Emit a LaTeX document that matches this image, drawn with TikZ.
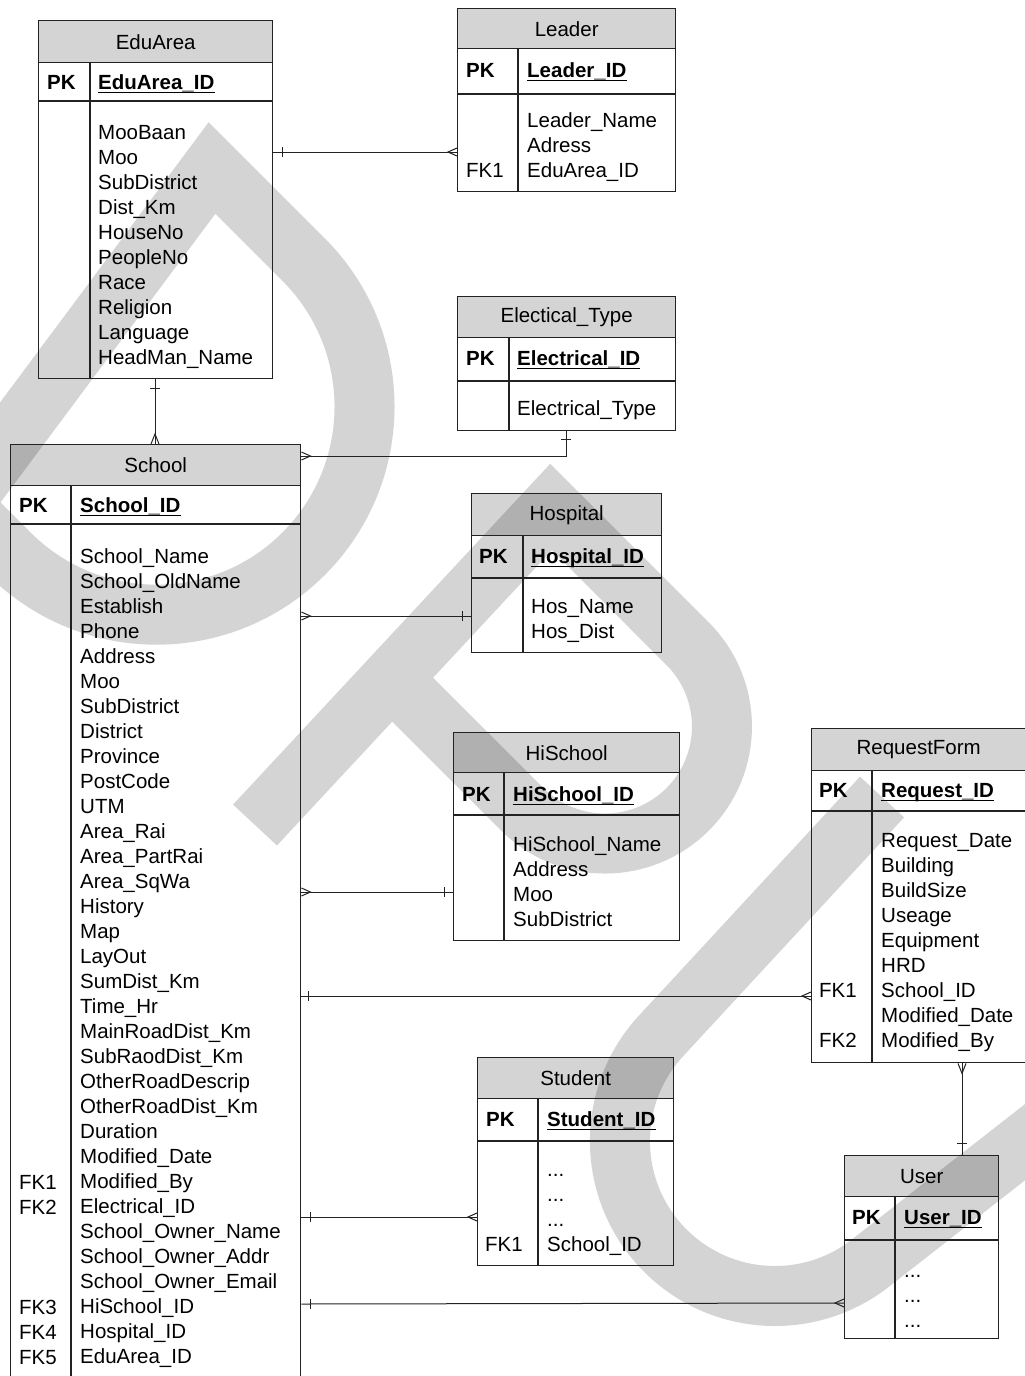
\documentclass[tikz,border=0pt]{standalone}
\usepackage{fontspec}
\setmainfont{Liberation Sans}
\usetikzlibrary{calc}

\definecolor{wm}{HTML}{D4D4D4}
\definecolor{ink}{HTML}{222222}

\tikzset{
  boxline/.style={draw=ink, line width=1.4pt},
  tbl/.style={boxline, inner sep=0pt, anchor=north west},
  hdrcell/.style={boxline, fill=black, fill opacity=0.17, text opacity=1, inner sep=0pt, anchor=north west},
  attr/.style={inner sep=0pt, anchor=base west},
  keyname/.style={inner sep=0pt, anchor=base west, font=\fontsize{20.5}{25}\selectfont\bfseries},
  conn/.style={draw=ink, line width=1pt},
  wmband/.style={draw=wm, line width=60pt, line cap=butt, line join=miter},
}

\newcommand\erDots{...}

% bar (one) and crow's foot (many) marks at a point on a box edge
\newcommand\erBarRight[1]{\draw[conn] ($(#1)+(9,-5)$) -- ($(#1)+(9,5)$);}
\newcommand\erBarLeft[1]{\draw[conn] ($(#1)+(-9,-5)$) -- ($(#1)+(-9,5)$);}
\newcommand\erBarDown[1]{\draw[conn] ($(#1)+(-5,9)$) -- ($(#1)+(5,9)$);}
\newcommand\erBarUp[1]{\draw[conn] ($(#1)+(-5,-12)$) -- ($(#1)+(5,-12)$);}
\newcommand\erCrowRight[1]{\draw[conn] ($(#1)+(0,-4)$) -- ($(#1)+(9,0)$) -- ($(#1)+(0,4)$);}
\newcommand\erCrowLeft[1]{\draw[conn] ($(#1)+(0,-4)$) -- ($(#1)+(-9,0)$) -- ($(#1)+(0,4)$);}
\newcommand\erCrowDown[1]{\draw[conn] ($(#1)+(-4,0)$) -- ($(#1)+(0,10)$) -- ($(#1)+(4,0)$);}
\newcommand\erCrowUp[1]{\draw[conn] ($(#1)+(-4,0)$) -- ($(#1)+(0,-10)$) -- ($(#1)+(4,0)$);}

% one table: #1 name, #2 left, #3 top, #4 width, #5 height, #6 header height, #7 key row height, #8 key column width, #9 title
\newcommand\erTable[9]{%
  \node[tbl, minimum width=#4pt, minimum height=#5pt] (#1) at (#2,#3) {};
  \node[hdrcell, minimum width=#4pt, minimum height=#6pt] (#1-h) at (#2,#3) {#9};
  \draw[boxline] ($(#1.north west)+(0,#6+#7)$) -- ($(#1.north east)+(0,#6+#7)$);
  \draw[boxline] ($(#1.north west)+(#8,#6)$) -- ($(#1.south west)+(#8,0)$);
}

\begin{document}
\begin{tikzpicture}[x=1pt, y=-1pt, font=\fontsize{20.5}{25}\selectfont]
\useasboundingbox (0,0) rectangle (1025,1376);
\fill[white] (0,0) rectangle (1025,1376);

% ---------- watermark: large slanted outline letters D, P, U ----------
\begin{scope}
  \clip (0,0) rectangle (1025,1376);
  % D
  \draw[wmband] (-39,505.2) -- (212,168) -- (303.6,259.6)
    arc[start angle=-45, end angle=135, radius=208] -- cycle;
  % P
  \draw[wmband] (255,825) -- (551,507) -- (687.7,643.8)
    arc[start angle=-45, end angle=135, radius=117] -- (385,672);
  % U
  \draw[wmband] (882,797) -- (661.2,1035.7)
    arc[start angle=222.8, end angle=51.9, radius=155] -- (1107,1078);
\end{scope}

% ---------- tables ----------
\erTable{edu}{38}{20}{234}{358}{42}{39}{52}{EduArea}
\node[attr] (edu-pk) at (47,89) {\textbf{PK}};
\node[keyname] (edu-k) at (98,89) {EduArea\_ID};
\foreach \t [count=\i from 0] in {MooBaan,Moo,SubDistrict,Dist\_Km,HouseNo,PeopleNo,Race,Religion,Language,HeadMan\_Name}
  \node[attr] (edu-a\i) at (98,139+25*\i) {\t};

\erTable{lead}{457}{8}{218}{183}{40}{46}{61}{Leader}
\node[attr] (lead-pk) at (466,77) {\textbf{PK}};
\node[keyname] (lead-k) at (527,77) {Leader\_ID};
\foreach \t [count=\i from 0] in {Leader\_Name,Adress,EduArea\_ID}
  \node[attr] (lead-a\i) at (527,127+25*\i) {\t};
\node[attr] (lead-fk) at (466,177) {FK1};

\erTable{elec}{457}{296}{218}{134}{41}{44}{52}{Electical\_Type}
\node[attr] (elec-pk) at (466,365) {\textbf{PK}};
\node[keyname] (elec-k) at (517,365) {Electrical\_ID};
\node[attr] (elec-a0) at (517,415) {Electrical\_Type};

\erTable{sch}{10}{444}{290}{960}{41}{39}{61}{School}
\node[attr] (sch-pk) at (19,512) {\textbf{PK}};
\node[keyname] (sch-k) at (80,512) {School\_ID};
\foreach \t [count=\i from 0] in {School\_Name,School\_OldName,Establish,Phone,Address,Moo,SubDistrict,District,Province,PostCode,UTM,Area\_Rai,Area\_PartRai,Area\_SqWa,History,Map,LayOut,SumDist\_Km,Time\_Hr,MainRoadDist\_Km,SubRaodDist\_Km,OtherRoadDescrip,OtherRoadDist\_Km,Duration,Modified\_Date,Modified\_By,Electrical\_ID,School\_Owner\_Name,School\_Owner\_Addr,School\_Owner\_Email,HiSchool\_ID,Hospital\_ID,EduArea\_ID}
  \node[attr] (sch-a\i) at (80,563+25*\i) {\t};
\node[attr] (sch-fk1) at (19,1189) {FK1};
\node[attr] (sch-fk2) at (19,1214) {FK2};
\node[attr] (sch-fk3) at (19,1314) {FK3};
\node[attr] (sch-fk4) at (19,1339) {FK4};
\node[attr] (sch-fk5) at (19,1364) {FK5};

\erTable{hosp}{471}{493}{190}{159}{42}{43}{52}{Hospital}
\node[attr] (hosp-pk) at (479,563) {\textbf{PK}};
\node[keyname] (hosp-k) at (531,563) {Hospital\_ID};
\foreach \t [count=\i from 0] in {Hos\_Name,Hos\_Dist}
  \node[attr] (hosp-a\i) at (531,613+25*\i) {\t};

\erTable{hi}{453}{732}{226}{208}{40}{43}{51}{HiSchool}
\node[attr] (hi-pk) at (462,801) {\textbf{PK}};
\node[keyname] (hi-k) at (513,801) {HiSchool\_ID};
\foreach \t [count=\i from 0] in {HiSchool\_Name,Address,Moo,SubDistrict}
  \node[attr] (hi-a\i) at (513,851+25*\i) {\t};

\erTable{req}{811}{728}{214}{334}{42}{41}{61}{RequestForm}
\node[attr] (req-pk) at (819,797) {\textbf{PK}};
\node[keyname] (req-k) at (881,797) {Request\_ID};
\foreach \t [count=\i from 0] in {Request\_Date,Building,BuildSize,Useage,Equipment,HRD,School\_ID,Modified\_Date,Modified\_By}
  \node[attr] (req-a\i) at (881,847+25*\i) {\t};
\node[attr] (req-fk1) at (819,997) {FK1};
\node[attr] (req-fk2) at (819,1047) {FK2};

\erTable{stu}{477}{1057}{196}{208}{41}{43}{61}{Student}
\node[attr] (stu-pk) at (486,1126) {\textbf{PK}};
\node[keyname] (stu-k) at (547,1126) {Student\_ID};
\foreach \t [count=\i from 0] in {\erDots,\erDots,\erDots,School\_ID}
  \node[attr] (stu-a\i) at (547,1176+25*\i) {\t};
\node[attr] (stu-fk1) at (485,1251) {FK1};

\erTable{usr}{844}{1155}{154}{183}{41}{44}{51}{User}
\node[attr] (usr-pk) at (852,1224) {\textbf{PK}};
\node[keyname] (usr-k) at (904,1224) {User\_ID};
\foreach \t [count=\i from 0] in {\erDots,\erDots,\erDots}
  \node[attr] (usr-a\i) at (904,1277+25*\i) {\t};

% underline the key names
\foreach \k in {edu-k,lead-k,elec-k,sch-k,hosp-k,hi-k,req-k,stu-k,usr-k}
  \draw[line width=1.6pt] ($(\k.base west)+(0,3.5)$) -- ($(\k.base east)+(0,3.5)$);

% ---------- relationships ----------
% EduArea -- Leader
\coordinate (r1a) at ($(edu.north east)+(0,132)$);
\coordinate (r1b) at ($(lead.north west)+(0,144)$);
\draw[conn] (r1a) -- (r1b);
\erBarRight{r1a}\erCrowLeft{r1b}

% EduArea -- School
\coordinate (r2a) at ($(edu.south west)+(117,0)$);
\coordinate (r2b) at ($(sch.north west)+(145,0)$);
\draw[conn] (r2a) -- (r2b);
\erBarDown{r2a}\erCrowUp{r2b}

% School -- Electical_Type
\coordinate (r3a) at ($(sch.north east)+(0,12)$);
\coordinate (r3b) at ($(elec.south west)+(109,0)$);
\draw[conn] (r3a) -| (r3b);
\erCrowRight{r3a}
\draw[conn] ($(r3b)+(-5,8)$) -- ($(r3b)+(5,8)$);

% School -- Hospital
\coordinate (r4a) at ($(sch.north east)+(0,172)$);
\coordinate (r4b) at ($(hosp.north west)+(0,123)$);
\draw[conn] (r4a) -- (r4b);
\erCrowRight{r4a}\erBarLeft{r4b}

% School -- HiSchool
\coordinate (r5a) at ($(sch.north east)+(0,448)$);
\coordinate (r5b) at ($(hi.north west)+(0,160)$);
\draw[conn] (r5a) -- (r5b);
\erCrowRight{r5a}\erBarLeft{r5b}

% School -- RequestForm
\coordinate (r6a) at ($(sch.north east)+(0,552)$);
\coordinate (r6b) at ($(req.north west)+(0,268)$);
\draw[conn] (r6a) -- (r6b);
\draw[conn] ($(r6a)+(7,-5)$) -- ($(r6a)+(7,5)$);
\erCrowLeft{r6b}

% RequestForm -- User
\coordinate (r7a) at ($(req.south west)+(151,0)$);
\coordinate (r7b) at ($(usr.north west)+(118,0)$);
\draw[conn] (r7a) -- (r7b);
\erCrowDown{r7a}\erBarUp{r7b}

% School -- Student
\coordinate (r8a) at ($(sch.north east)+(0,773)$);
\coordinate (r8b) at ($(stu.north west)+(0,160)$);
\draw[conn] (r8a) -- (r8b);
\erBarRight{r8a}\erCrowLeft{r8b}

% School -- User
\coordinate (r9a) at ($(sch.north east)+(0,860)$);
\coordinate (r9b) at ($(usr.north west)+(0,148)$);
\draw[conn] (r9a) -- (r9b);
\erBarRight{r9a}\erCrowLeft{r9b}
\end{tikzpicture}
\end{document}
